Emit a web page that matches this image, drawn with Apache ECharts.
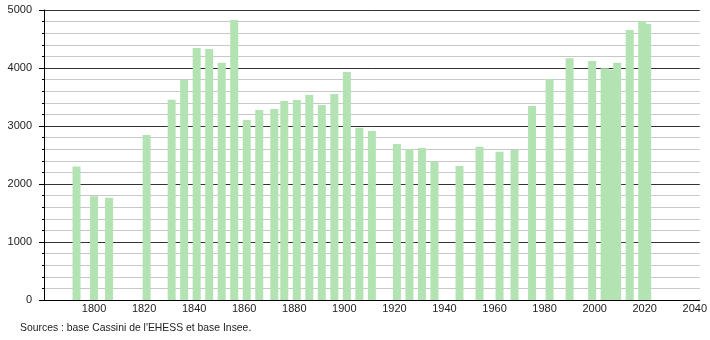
<!DOCTYPE html>
<html>
<head>
<meta charset="utf-8">
<script src="https://cdn.jsdelivr.net/npm/echarts@6/dist/echarts.min.js"></script>
<style>
html,body{margin:0;padding:0;background:#fff;}
#chart{width:710px;height:340px;}
</style>
</head>
<body>
<div id="chart"></div>
<script>
const years = [1793,1800,1806,1821,1831,1836,1841,1846,1851,1856,1861,1866,1872,1876,1881,1886,1891,1896,1901,1906,1911,1921,1926,1931,1936,1946,1954,1962,1968,1975,1982,1990,1999,2004,2006,2009,2014,2019,2021];
const population = [2300,1790,1765,2845,3453,3793,4345,4328,4092,4828,3103,3276,3293,3431,3448,3534,3362,3552,3931,2971,2914,2690,2603,2621,2385,2310,2644,2557,2586,3345,3810,4167,4121,3994,3975,4092,4655,4810,4760];
const xTickLabels = [1800,1820,1840,1860,1880,1900,1920,1940,1960,1980,2000,2020,2040];
const sourceText = "Sources : base Cassini de l'EHESS et base Insee.";

const chart = echarts.init(document.getElementById('chart'), null, {renderer:'canvas'});
const font = 'Liberation Sans, Arial, sans-serif';
chart.setOption({
  animation:false,
  grid:{left:44, right:10, top:10, bottom:40},
  xAxis:{
    type:'value', min:1780, max:2042, interval:20,
    axisLine:{show:true, onZero:false, lineStyle:{color:'#000', width:1}},
    axisTick:{show:false},
    splitLine:{show:false},
    axisLabel:{
      margin:3, fontSize:11, fontFamily:font, color:'#222',
      showMinLabel:true, showMaxLabel:true,
      formatter:v => xTickLabels.indexOf(v) >= 0 ? String(v) : ''
    }
  },
  yAxis:{
    type:'value', min:0, max:5000, interval:1000,
    axisLine:{show:true, lineStyle:{color:'#000', width:1}},
    axisTick:{show:true, length:5, lineStyle:{color:'#000'}},
    minorTick:{show:true, splitNumber:5, length:2, lineStyle:{color:'#000'}},
    splitLine:{show:true, lineStyle:{color:'#333', width:1}},
    minorSplitLine:{show:true, lineStyle:{color:'#c8c8c8', width:1}},
    axisLabel:{margin:12, fontSize:11, fontFamily:font, color:'#222', formatter:v => String(v)}
  },
  series:[{
    type:'bar',
    barWidth:8,
    itemStyle:{color:'#b3e3b3'},
    data:years.map((y,i)=>[y, population[i]])
  }],
  graphic:[{
    type:'text', left:20, top:323,
    style:{text:sourceText, fontSize:10.4, fontFamily:font, fill:'#222'}
  }]
});
</script>
</body>
</html>
